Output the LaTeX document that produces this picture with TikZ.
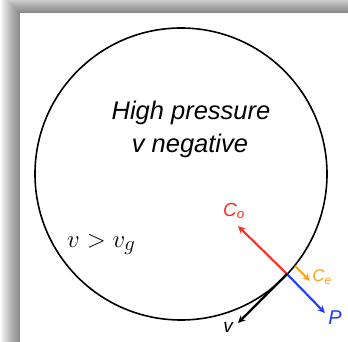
\documentclass[tikz,border=0pt]{standalone}
\usepackage{fontspec}
\setmainfont{Liberation Sans}
\usetikzlibrary{arrows.meta}
\definecolor{ForceRed}{HTML}{FF2D20}
\definecolor{ForceOrange}{HTML}{FFA31A}
\definecolor{ForceBlue}{HTML}{1F3DFF}
\tikzset{>={Stealth[length=7.5pt,width=7pt]},force/.style={line width=2.1pt,->},
 lbl/.style={font=\fontsize{19}{21}\selectfont\itshape,inner sep=0pt}}
\begin{document}
\begin{tikzpicture}[x=1pt,y=-1pt]
\useasboundingbox (0,0) rectangle (348,342);
% shadowed panel
\foreach \i in {0,...,19}\fill[black,opacity=.032] (20-\i,13-\i) rectangle (348,342);
\fill[white] (20,13) rectangle (348,342);
\node[draw,circle,line width=1.6pt,minimum size=292pt,inner sep=0pt] (drop) at (181,174) {};
\node[anchor=base,inner sep=0pt,font=\fontsize{25.5}{30}\selectfont\itshape] (hp) at (191,120) {High pressure};
\node[anchor=base,inner sep=0pt,font=\fontsize{25.5}{30}\selectfont\itshape] (vn) at (190,153) {v negative};
\node[anchor=base west,inner sep=0pt,font=\fontsize{29}{32}\selectfont] (vg) at (67,247) {$v>v_g$};
\coordinate (hit) at (287,274);
\coordinate (co) at (238,226);
\coordinate (pp) at (325,313);
\coordinate (ce0) at (295,266);
\coordinate (ce) at (310,281);
\coordinate (vv) at (238,323);
\draw[force,ForceRed] (hit)--(co);
\draw[force,ForceBlue] (hit)--(pp);
\draw[force,ForceOrange] (ce0)--(ce);
\draw[force,black,line width=2.4pt] (hit)--(vv);
\node[lbl,ForceRed] (lco) at (234,211) {C\textsubscript{o}};
\node[lbl,ForceOrange,font=\fontsize{17}{19}\selectfont\itshape] (lce) at (322,277) {C\textsubscript{e}};
\node[lbl,ForceBlue,font=\fontsize{20}{22}\selectfont\itshape] (lp) at (335,318) {P};
\node[lbl] (lv) at (228,327) {v};
\end{tikzpicture}
\end{document}
